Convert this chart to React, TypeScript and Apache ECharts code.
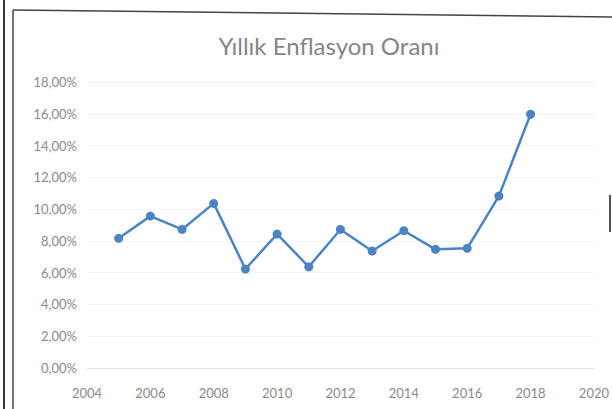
import React, { useEffect, useRef } from "react";
import * as echarts from "echarts";

const years = [2005, 2006, 2007, 2008, 2009, 2010, 2011, 2012, 2013, 2014, 2015, 2016, 2017, 2018];
const inflation = [8.16, 9.56, 8.72, 10.36, 6.23, 8.43, 6.37, 8.72, 7.36, 8.64, 7.47, 7.53, 10.82, 15.97];
const titleText = "Yıllık Enflasyon Oranı";
const xMin = 2004;
const xMax = 2020;
const yMax = 18;

export default function App() {
  const ref = useRef<HTMLDivElement>(null);
  useEffect(() => {
    if (!ref.current) return;
    const chart = echarts.init(ref.current, null, { renderer: "svg" });
    chart.setOption({
      animation: false,
      backgroundColor: "#ffffff",
      title: {
        text: titleText,
        left: 324,
        textAlign: "center",
        top: 28,
        textStyle: { fontFamily: "Lato", fontSize: 24, fontWeight: "normal", color: "#858585" },
      },
      grid: { left: 87, right: 15, top: 82, bottom: 41 },
      xAxis: {
        type: "value",
        min: xMin,
        max: xMax,
        interval: 2,
        axisLine: { show: true, lineStyle: { color: "#e3e3e3", width: 1 } },
        axisTick: { show: false },
        splitLine: { show: false },
        axisLabel: {
          fontFamily: "Lato",
          fontSize: 13,
          color: "#8a8a8a",
          margin: 18,
          formatter: (v: number) => String(v),
        },
      },
      yAxis: {
        type: "value",
        min: 0,
        max: yMax,
        interval: 2,
        axisLine: { show: false },
        axisTick: { show: false },
        splitLine: { show: true, lineStyle: { color: "#f3f3f3", width: 1 } },
        axisLabel: {
          fontFamily: "Lato",
          fontSize: 13,
          color: "#8a8a8a",
          margin: 10,
          formatter: (v: number) => v.toFixed(2).replace(".", ",") + "%",
        },
      },
      series: [
        {
          type: "line",
          data: years.map((y, i) => [y, inflation[i]]),
          symbol: "circle",
          symbolSize: 9,
          lineStyle: { color: "#4a84c4", width: 2.5 },
          itemStyle: { color: "#4a84c4" },
        },
      ],
      graphic: [
        { type: "line", shape: { x1: 4, y1: 0, x2: 4, y2: 409 }, style: { stroke: "#3a3a3a", lineWidth: 2 } },
        { type: "line", shape: { x1: 13, y1: 10, x2: 13, y2: 409 }, style: { stroke: "#444444", lineWidth: 1.5 } },
        { type: "line", shape: { x1: 13, y1: 10, x2: 612, y2: 17 }, style: { stroke: "#444444", lineWidth: 1.5 } },
        { type: "line", shape: { x1: 610, y1: 195, x2: 610, y2: 232 }, style: { stroke: "#555555", lineWidth: 2 } },
      ],
    });
    return () => chart.dispose();
  }, []);
  return <div ref={ref} style={{ position: "fixed", left: 0, top: 0, width: 612, height: 409 }} />;
}
